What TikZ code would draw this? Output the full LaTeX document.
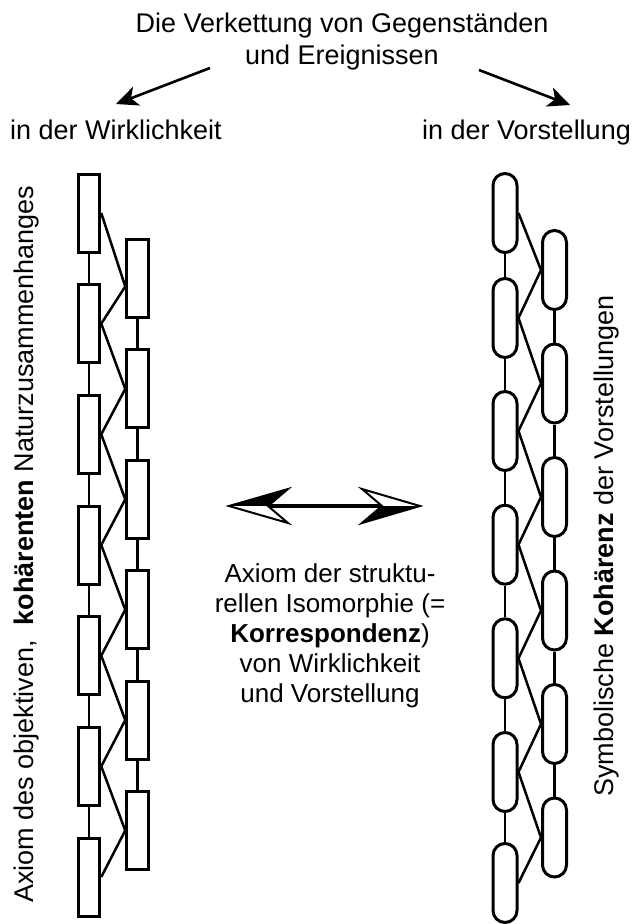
\documentclass[tikz,border=0pt]{standalone}
\usepackage{fontspec}
\setmainfont{Liberation Sans}
\usetikzlibrary{arrows.meta,calc}
\begin{document}
\begin{tikzpicture}[x=1pt,y=-1pt,
  lbl/.style={font=\fontsize{27}{32}\selectfont, inner sep=0pt},
  midlbl/.style={font=\fontsize{26}{30}\selectfont, inner sep=0pt, align=center},
  rbox/.style={draw, line width=3pt, fill=white, minimum width=21.5pt, minimum height=78pt, inner sep=0pt},
  obox/.style={draw, line width=3pt, fill=white, minimum width=24pt, minimum height=79pt, rounded corners=12pt, inner sep=0pt},
  link/.style={line width=2.5pt, line join=round},
  toparrow/.style={line width=2.6pt, -{Stealth[length=22pt,width=20pt,inset=6pt]}},
  headline/.style={line width=2pt, line join=miter},
]
\useasboundingbox (0,0) rectangle (634,924);

% texts
\node[lbl, align=center, anchor=base] (title) at (342,64) {Die Verkettung von Gegenständen\\und Ereignissen};
\node[lbl, anchor=base west] (lw) at (10,139) {in der Wirklichkeit};
\node[lbl, anchor=base east] (rv) at (631,139) {in der Vorstellung};
\node[lbl, rotate=90, anchor=base west] (lt) at (33,903) {Axiom des objektiven,\ \ \textbf{kohärenten} Naturzusammenhanges};
\node[lbl, rotate=90, anchor=base west] (rt) at (613,797) {Symbolische \textbf{Kohärenz} der Vorstellungen};
\node[midlbl, anchor=base] (mid) at (330,702) {Axiom der struktu-\\rellen Isomorphie (=\\\textbf{Korrespondenz})\\von Wirklichkeit\\und Vorstellung};

% top arrows
\coordinate (la1) at (210,68);
\coordinate (la2) at (116,104);
\coordinate (ra1) at (479,70);
\coordinate (ra2) at (570,105);
\draw[toparrow] (la1) -- (la2);
\draw[toparrow] (ra1) -- (ra2);

% left chain
\foreach \i in {1,...,7} \node[rbox] (A\i) at (89,{213+(\i-1)*110.67}) {};
\foreach \i in {1,...,6} \node[rbox] (B\i) at (137.5,{278.5+(\i-1)*110.4}) {};
\foreach \i [count=\j from 2] in {1,...,6} \draw[link] (A\i.south) -- (A\j.north);
\foreach \i [count=\j from 2] in {1,...,5} \draw[link] (B\i.south) -- (B\j.north);
\draw[link] (A1.east) -- ($(B1.west)+(0,8)$) -- (A2.east) -- (B2.west) -- (A3.east) -- (B3.west) -- (A4.east) -- (B4.west) -- (A5.east) -- (B5.west) -- (A6.east) -- (B6.west) -- (A7.east);

% right chain
\foreach \i/\y in {1/213,2/318,3/431,4/544.7,5/658.3,6/772,7/883} \node[obox] (C\i) at (505,\y) {};
\foreach \i/\y in {1/270,2/383.5,3/497,4/610.5,5/724,6/837.5} \node[obox] (D\i) at (554.5,\y) {};
\foreach \i [count=\j from 2] in {1,...,6} \draw[link] (C\i.south) -- (C\j.north);
\foreach \i [count=\j from 2] in {1,...,5} \draw[link] (D\i.south) -- (D\j.north);
\draw[link] (C1.east) -- (D1.west) -- (C2.east) -- (D2.west) -- (C3.east) -- (D3.west) -- (C4.east) -- (D4.west) -- (C5.east) -- (D5.west) -- (C6.east) -- (D6.west) -- (C7.east);

% double arrow
\coordinate (dl) at (229,506);
\coordinate (dr) at (420,506);
\draw[line width=4.5pt, shorten <=38pt, shorten >=37pt] (dl) -- (dr);
\fill[black] (dl) -- ++(59,-17) -- ++(-20,17) -- cycle;
\fill[white] (dl) -- ++(59,17) -- ++(-20,-17) -- cycle;
\draw[headline] (dl) -- ++(59,-17) -- ++(-20,17) -- ++(20,17) -- cycle;
\fill[white] (dr) -- ++(-58,-17) -- ++(20,17) -- cycle;
\fill[black] (dr) -- ++(-58,17) -- ++(20,-17) -- cycle;
\draw[headline] (dr) -- ++(-58,-17) -- ++(20,17) -- ++(-20,17) -- cycle;
\end{tikzpicture}
\end{document}
